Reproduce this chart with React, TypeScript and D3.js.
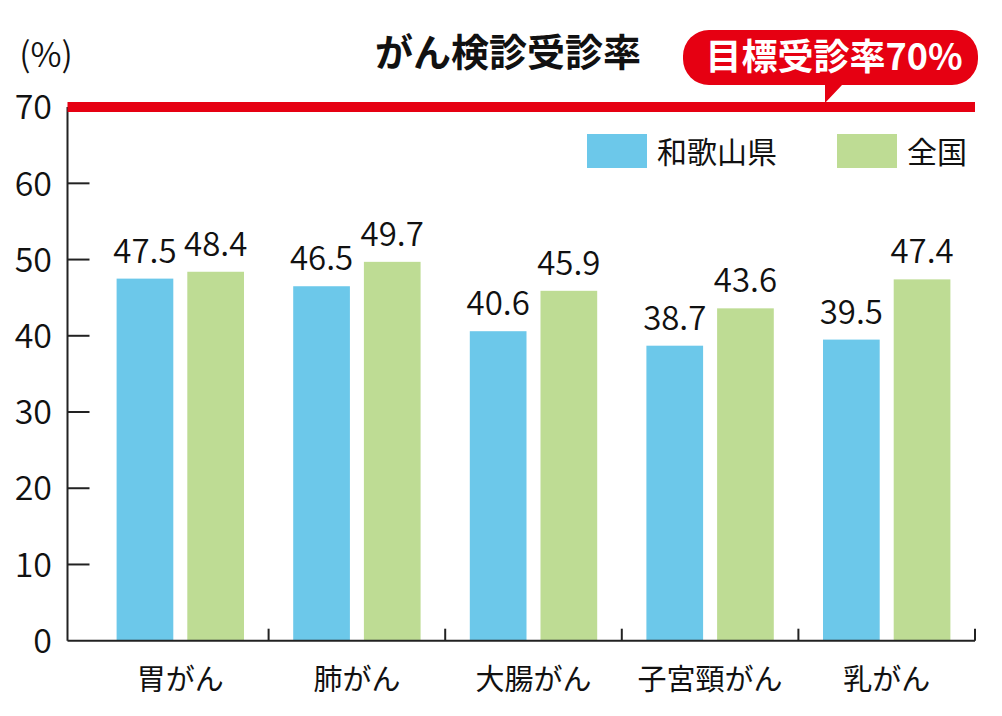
import React from 'react';
import * as d3 from 'd3';

const categories = ['胃がん', '肺がん', '大腸がん', '子宮頸がん', '乳がん'];
const seriesNames = ['和歌山県', '全国'];
const wakayama = [47.5, 46.5, 40.6, 38.7, 39.5];
const national = [48.4, 49.7, 45.9, 43.6, 47.4];
const yTicks = [0, 10, 20, 30, 40, 50, 60, 70];
const targetValue = 70;

const colors = ['#6cc8ea', '#bedc94'];
const red = '#e60012';
const font = '"Noto Sans CJK JP", "Noto Sans", sans-serif';

const W = 1002;
const H = 716;
const axisX = 67.5;

const App: React.FC = () => {
  const y = d3.scaleLinear().domain([0, 70]).range([640.7, 107.1]);
  const x0 = d3.scaleBand<string>().domain(categories).range([92, 975]).paddingInner(0);
  const x1 = d3.scaleBand<string>().domain(seriesNames).range([0, x0.bandwidth()])
    .paddingInner(0.198).paddingOuter(0.348);
  const series = [wakayama, national];

  // callout bubble
  const bx0 = 683, bx1 = 978, by0 = 30, by1 = 85, r = 26;
  const tailX = 825;
  const bubble = d3.path();
  bubble.moveTo(bx0 + r, by0);
  bubble.lineTo(bx1 - r, by0);
  bubble.arcTo(bx1, by0, bx1, by0 + r, r);
  bubble.lineTo(bx1, by1 - r);
  bubble.arcTo(bx1, by1, bx1 - r, by1, r);
  bubble.lineTo(tailX + 17, by1);
  bubble.lineTo(tailX, y(targetValue) - 4);
  bubble.lineTo(tailX, by1);
  bubble.lineTo(bx0 + r, by1);
  bubble.arcTo(bx0, by1, bx0, by1 - r, r);
  bubble.lineTo(bx0, by0 + r);
  bubble.arcTo(bx0, by0, bx0 + r, by0, r);
  bubble.closePath();

  const base = y(0);

  return (
    <svg width={W} height={H} style={{ position: 'absolute', left: 0, top: 0 }} fontFamily={font}>
      <rect width={W} height={H} fill="#fff" />

      {/* bars */}
      {categories.map((c, i) => (
        <g key={c} transform={`translate(${x0(c)},0)`}>
          {seriesNames.map((s, k) => {
            const v = series[k][i];
            const bx = x1(s)!;
            return (
              <g key={s}>
                <rect x={bx} y={y(v)} width={x1.bandwidth()} height={base - y(v)} fill={colors[k]} />
                <text x={bx + x1.bandwidth() / 2} y={y(v) - 16} textAnchor="middle" fontSize={33}
                  fontWeight={350} fill="#111">
                  {v.toFixed(1)}
                </text>
              </g>
            );
          })}
          <text x={x0.bandwidth() / 2} y={690} textAnchor="middle" fontSize={29} fill="#111">{c}</text>
        </g>
      ))}

      {/* y axis */}
      <line x1={axisX} x2={axisX} y1={y(70)} y2={base} stroke="#222" strokeWidth={2} />
      {yTicks.map(t => (
        <g key={t}>
          {t > 0 && t < 70 && (
            <line x1={axisX} x2={axisX + 22} y1={y(t)} y2={y(t)} stroke="#222" strokeWidth={2} />
          )}
          <text x={52} y={y(t)} dy="0.36em" textAnchor="end" fontSize={34} fontWeight={350} fill="#111">{t}</text>
        </g>
      ))}
      <text x={46} y={55} dy="0.36em" textAnchor="middle" fontSize={34} fontWeight={350} fill="#111">(%)</text>

      {/* x axis */}
      <line x1={axisX} x2={975} y1={base} y2={base} stroke="#222" strokeWidth={2} />
      {categories.map(c => (
        <line key={c} x1={x0(c)! + x0.bandwidth()} x2={x0(c)! + x0.bandwidth()} y1={base} y2={base - 12}
          stroke="#222" strokeWidth={2} />
      ))}

      {/* target line */}
      <line x1={axisX} x2={975} y1={y(targetValue)} y2={y(targetValue)} stroke={red} strokeWidth={10} />
      <path d={bubble.toString()} fill={red} />
      <text x={834} y={57} dy="0.36em" textAnchor="middle" fontSize={36} fontWeight="bold" fill="#fff">
        目標受診率70%
      </text>

      {/* title */}
      <text x={508} y={52} dy="0.36em" textAnchor="middle" fontSize={38} fontWeight="bold" fill="#111">
        がん検診受診率
      </text>

      {/* legend */}
      {seriesNames.map((s, k) => {
        const lx = [587, 837][k];
        return (
          <g key={s}>
            <rect x={lx} y={134} width={60} height={34} fill={colors[k]} />
            <text x={lx + 70} y={152} dy="0.36em" fontSize={30} fill="#111">{s}</text>
          </g>
        );
      })}
    </svg>
  );
};

export default App;
